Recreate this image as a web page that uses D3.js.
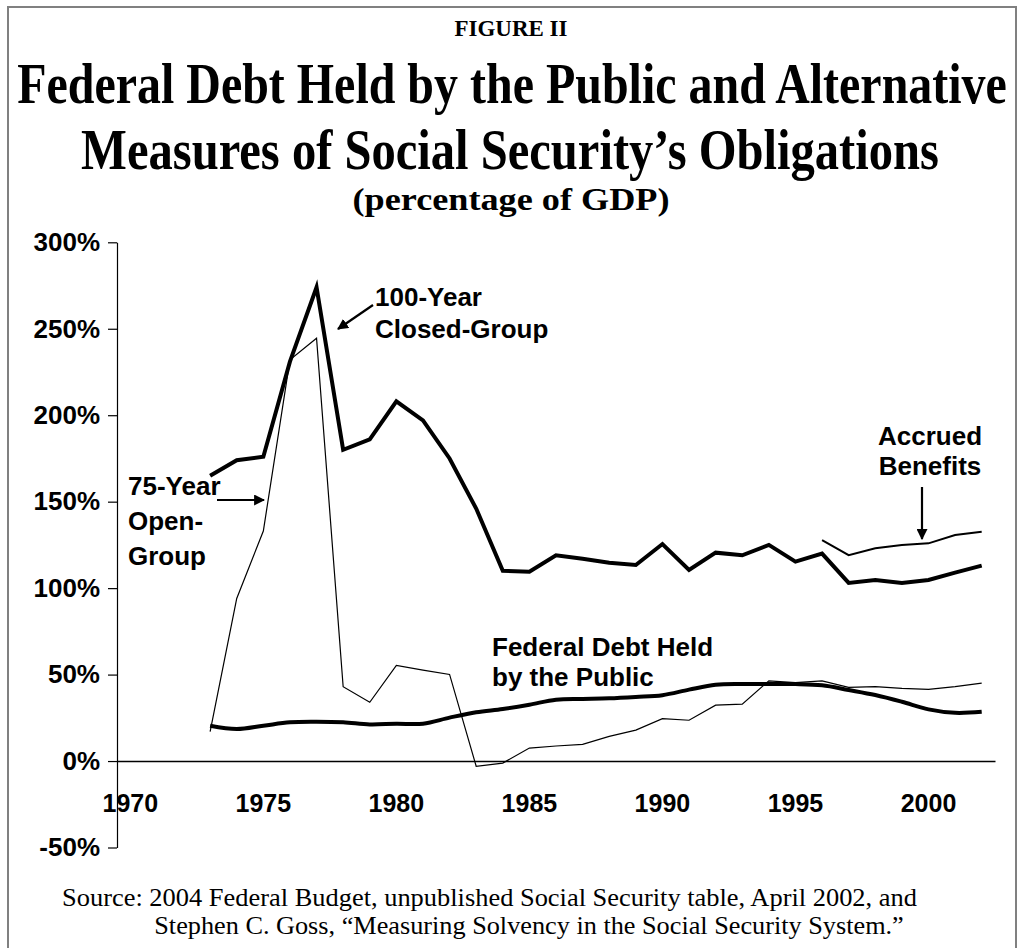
<!DOCTYPE html>
<html>
<head>
<meta charset="utf-8">
<script src="https://cdn.jsdelivr.net/npm/d3@7"></script>
<style>
  html, body { margin: 0; padding: 0; background: #fff; }
  svg { display: block; }
</style>
</head>
<body>
<svg id="chart" width="1023" height="948"></svg>
<script>
// ---- Data (percentage of GDP) ----
const categories = d3.range(1970, 2003); // 1970..2002 category axis
const xTickLabels = [1970, 1975, 1980, 1985, 1990, 1995, 2000];
const yTickValues = [-50, 0, 50, 100, 150, 200, 250, 300];

const seriesYears = d3.range(1973, 2003);
const closedGroup100 = [165, 174, 176, 231, 274, 180, 186, 208, 197, 175,
  146, 110, 109.5, 119, 117, 114.7, 113.4, 125.5, 110.5, 120.5,
  119, 125, 115.3, 120, 103, 104.7, 103, 104.7, 109, 113];
const openGroup75 = [17, 94, 133, 232, 244.5, 43, 34, 55.3, 52.6, 50.1,
  -3, -1.2, 7.5, 8.7, 9.6, 14.3, 17.9, 24.5, 23.6, 32.3,
  32.9, 46.4, 45.3, 46.4, 42.6, 43, 42, 41.5, 43, 45.1];
const debtPublic = [20.4, 18.5, 20.4, 22.4, 22.7, 22.4, 21.2, 21.6, 21.6, 25.1,
  28.2, 30.1, 32.6, 35.5, 35.9, 36.3, 37.1, 38.1, 41.3, 44.1,
  44.5, 44.5, 44.5, 43.8, 41.1, 38.2, 34.3, 29.9, 27.9, 28.5];
const accruedYears = d3.range(1996, 2003);
const accruedBenefits = [127.8, 119.1, 123, 124.9, 125.9, 130.7, 132.6];

const svg = d3.select("#chart");

// frame
svg.append("rect").attr("x", 8).attr("y", 7).attr("width", 1008).attr("height", 960)
  .attr("fill", "none").attr("stroke", "#808080").attr("stroke-width", 2);

// ---- Titles (condensed serif via horizontal scaling) ----
const serif = "'Liberation Serif', 'Times New Roman', serif";
const sans = "'Liberation Sans', Arial, sans-serif";
function title(txt, cx, baseline, size, targetWidth, weight) {
  const g = svg.append("g");
  const t = g.append("text").attr("x", 0).attr("y", 0).attr("text-anchor", "middle")
    .attr("font-family", serif).attr("font-weight", weight || "bold")
    .attr("font-size", size).attr("fill", "#000").text(txt);
  const natural = t.node().getComputedTextLength();
  const sx = targetWidth / natural;
  g.attr("transform", `translate(${cx},${baseline}) scale(${sx},1)`);
  return t;
}
title("FIGURE II", 511, 36, 23, 113);
title("Federal Debt Held by the Public and Alternative", 512, 103, 56, 990);
title("Measures of Social Security\u2019s Obligations", 510, 169, 56, 858);
title("(percentage of GDP)", 511, 210, 31, 317);
title("Source: 2004 Federal Budget, unpublished Social Security table, April 2002, and", 489.5, 906, 25, 855, "normal");
title("Stephen C. Goss, \u201cMeasuring Solvency in the Social Security System.\u201d", 529, 934, 25, 750, "normal");

// ---- Scales ----
const x = d3.scaleBand().domain(categories).range([117, 995]).padding(0);
const xc = yr => x(yr) + x.bandwidth() / 2;
const y = d3.scaleLinear().domain([-50, 300]).range([847.5, 242.3]);

// y axis
const yAxis = svg.append("g").attr("transform", "translate(117,0)")
  .call(d3.axisLeft(y).tickValues(yTickValues).tickFormat(d => d + "%")
    .tickSize(9).tickSizeOuter(0).tickPadding(8));
yAxis.selectAll("text").attr("font-family", sans).attr("font-weight", "bold")
  .attr("font-size", 26).attr("fill", "#000");
yAxis.selectAll("line,path").attr("stroke", "#000").attr("stroke-width", 1.2);

// x axis at 0%
const xAxis = svg.append("g").attr("transform", `translate(0,${y(0)})`)
  .call(d3.axisBottom(x).tickValues(xTickLabels).tickSize(0).tickSizeOuter(0).tickPadding(33));
xAxis.selectAll("text").attr("font-family", sans).attr("font-weight", "bold")
  .attr("font-size", 25).attr("fill", "#000");
xAxis.select("path").attr("stroke", "#000").attr("stroke-width", 1.6);

// ---- Lines ----
function drawLine(years, vals, width, curve) {
  const pts = years.map((yr, i) => [xc(yr), y(vals[i])]);
  const gen = d3.line().curve(curve || d3.curveLinear);
  svg.append("path").attr("d", gen(pts)).attr("fill", "none").attr("stroke", "#000")
    .attr("stroke-width", width).attr("stroke-linejoin", "miter");
}
drawLine(seriesYears, openGroup75, 1.2);
drawLine(accruedYears, accruedBenefits, 2);
drawLine(seriesYears, closedGroup100, 4);
drawLine(seriesYears, debtPublic, 4, d3.curveCatmullRom.alpha(0.5));

// ---- Annotations ----
function label(lines, xPos, yPos, anchor, lh) {
  const t = svg.append("text").attr("font-family", sans).attr("font-weight", "bold")
    .attr("font-size", 26).attr("fill", "#000").attr("text-anchor", anchor || "start");
  lines.forEach((l, i) => t.append("tspan").attr("x", xPos).attr("y", yPos + i * lh).text(l));
}
label(["100-Year", "Closed-Group"], 375, 306, "start", 32);
label(["75-Year", "Open-", "Group"], 128, 495, "start", 35);
label(["Accrued", "Benefits"], 930, 445, "middle", 30);
label(["Federal Debt Held", "by the Public"], 492, 656, "start", 30);

const defs = svg.append("defs");
defs.append("marker").attr("id", "ah").attr("viewBox", "0 0 10 10").attr("refX", 9).attr("refY", 5)
  .attr("markerWidth", 5).attr("markerHeight", 5).attr("orient", "auto")
  .append("path").attr("d", "M0,0 L10,5 L0,10 z").attr("fill", "#000");
function arrow(x1, y1, x2, y2) {
  svg.append("line").attr("x1", x1).attr("y1", y1).attr("x2", x2).attr("y2", y2)
    .attr("stroke", "#000").attr("stroke-width", 2.2).attr("marker-end", "url(#ah)");
}
arrow(373, 305, 338, 329);
arrow(217, 500, 264, 500);
arrow(922, 487, 922, 539);
</script>
</body>
</html>
